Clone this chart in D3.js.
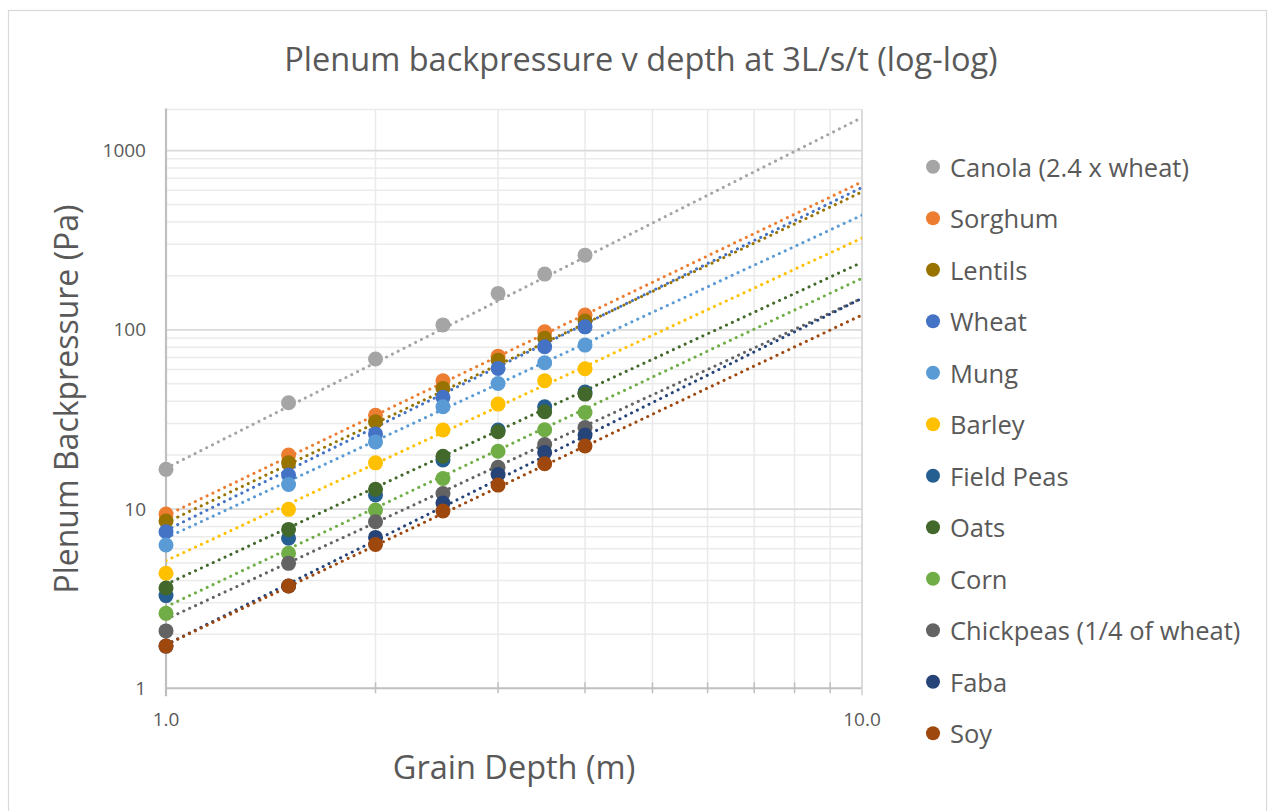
<!DOCTYPE html>
<html>
<head>
<meta charset="utf-8">
<script src="https://cdn.jsdelivr.net/npm/d3@7/dist/d3.min.js"></script>
<style>
  html, body { margin: 0; padding: 0; background: #ffffff; }
  svg { display: block; font-family: "Open Sans", "Noto Sans", sans-serif; }
</style>
</head>
<body>
<svg id="chart" width="1274" height="811"></svg>
<script>
// Grain depths (m) at which backpressure was measured
const depths = [1, 1.5, 2, 2.5, 3, 3.5, 4];

// Plenum backpressure (Pa) per grain, one array per series
const canola    = [16.65, 39.2, 68.7, 106.5, 159.6, 204.6, 261];
const sorghum   = [9.38, 20.0, 33.4, 51.9, 71.3, 97.5, 120.8];
const lentils   = [8.57, 18.1, 30.7, 47.1, 67.7, 89.6, 112];
const wheat     = [7.47, 15.5, 26.2, 42.0, 60.9, 80.4, 103.9];
const mung      = [6.30, 13.7, 23.7, 37.2, 50.2, 65.5, 82.2];
const barley    = [4.38, 9.96, 18.1, 27.6, 38.5, 52.0, 60.6];
const fieldPeas = [3.29, 6.87, 11.97, 18.8, 27.6, 37.2, 45.0];
const oats      = [3.63, 7.7, 12.9, 19.7, 27.0, 34.9, 43.8];
const corn      = [2.62, 5.66, 9.87, 14.8, 21.0, 27.7, 34.6];
const chickpeas = [2.09, 4.98, 8.5, 12.2, 17.1, 22.9, 28.5];
const faba      = [1.72, 3.72, 6.95, 10.8, 15.6, 20.7, 25.9];
const soy       = [1.72, 3.72, 6.35, 9.75, 13.6, 17.9, 22.5];

const seriesNames = ["Canola (2.4 x wheat)", "Sorghum", "Lentils", "Wheat", "Mung", "Barley",
  "Field Peas", "Oats", "Corn", "Chickpeas (1/4 of wheat)", "Faba", "Soy"];
const seriesValues = [canola, sorghum, lentils, wheat, mung, barley,
  fieldPeas, oats, corn, chickpeas, faba, soy];
const seriesColors = ["#A5A5A5", "#ED7D31", "#997300", "#4472C4", "#5B9BD5", "#FFC000",
  "#255E91", "#43682B", "#70AD47", "#636363", "#264478", "#9E480E"];

// Power trendlines y = a * x^b, given by their value at 1 m and at 10 m
// (null = series without a trendline)
const trendAt1m  = [16.9, 9.2, 8.4, 7.6, 6.9, 5.15, null, 3.8, 2.85, 2.43, 1.75, 1.75];
const trendAt10m = [1530, 669, 588, 623, 436, 325, null, 238, 194, 150, 150, 121];

const xTickLabels = ["1.0", "10.0"];
const yTickLabels = ["1", "10", "100", "1000"];

const titleText = "Plenum backpressure v depth at 3L/s/t (log-log)";
const xTitle = "Grain Depth (m)";
const yTitle = "Plenum Backpressure (Pa)";

const textColor = "#595959";

const svg = d3.select("#chart");

// outer chart frame
svg.append("rect")
  .attr("x", 8.5).attr("y", 10.5).attr("width", 1258).attr("height", 820)
  .attr("fill", "#ffffff").attr("stroke", "#D9D9D9").attr("stroke-width", 1.2);

const plot = { left: 166, right: 862, top: 109.5, bottom: 688.3 };

const x = d3.scaleLog().domain([1, 10]).range([plot.left, plot.right]);
const y = d3.scaleLog().domain([1, 1695]).range([plot.bottom, plot.top]);

const g = svg.append("g");

// horizontal gridlines: minor first, then decades
const yMinor = [];
for (let dec = 1; dec <= 1000; dec *= 10) {
  for (let m = 2; m <= 9; m++) {
    const v = dec * m;
    if (v < y.domain()[1]) yMinor.push(v);
  }
}
g.selectAll("line.yminor").data(yMinor).join("line")
  .attr("class", "yminor")
  .attr("x1", plot.left).attr("x2", plot.right)
  .attr("y1", d => y(d)).attr("y2", d => y(d))
  .attr("stroke", "#EBEBEB").attr("stroke-width", 1.5);

// vertical gridlines at 2..10
const xGrid = [2, 3, 4, 5, 6, 7, 8, 9, 10];
g.selectAll("line.xgrid").data(xGrid).join("line")
  .attr("class", "xgrid")
  .attr("x1", d => x(d)).attr("x2", d => x(d))
  .attr("y1", plot.top).attr("y2", plot.bottom)
  .attr("stroke", "#EAEAEA").attr("stroke-width", 1.5);

// top edge of the plot area
g.append("line")
  .attr("x1", plot.left).attr("x2", plot.right)
  .attr("y1", plot.top).attr("y2", plot.top)
  .attr("stroke", "#EAEAEA").attr("stroke-width", 1.5);

g.selectAll("line.ymajor").data([10, 100, 1000]).join("line")
  .attr("class", "ymajor")
  .attr("x1", plot.left).attr("x2", plot.right)
  .attr("y1", d => y(d)).attr("y2", d => y(d))
  .attr("stroke", "#D9D9D9").attr("stroke-width", 1.8);

// x axis line with crossing tick marks
g.append("line")
  .attr("x1", plot.left).attr("x2", plot.right + 1)
  .attr("y1", plot.bottom).attr("y2", plot.bottom)
  .attr("stroke", "#BFBFBF").attr("stroke-width", 2);
g.selectAll("line.xtick").data([2, 3, 4, 5, 6, 7, 8, 9]).join("line")
  .attr("class", "xtick")
  .attr("x1", d => x(d)).attr("x2", d => x(d))
  .attr("y1", plot.bottom - 6).attr("y2", plot.bottom + 5)
  .attr("stroke", "#BFBFBF").attr("stroke-width", 1.5);
g.append("line")
  .attr("x1", x(10)).attr("x2", x(10))
  .attr("y1", plot.top).attr("y2", plot.bottom + 7)
  .attr("stroke", "#D9D9D9").attr("stroke-width", 1.8);

// y axis line
g.append("line")
  .attr("x1", plot.left).attr("x2", plot.left)
  .attr("y1", plot.top - 1).attr("y2", plot.bottom + 8)
  .attr("stroke", "#BFBFBF").attr("stroke-width", 2.2);

// tick labels
svg.selectAll("text.ylab").data(yTickLabels).join("text")
  .attr("class", "ylab")
  .attr("x", 146).attr("y", d => y(+d))
  .attr("dy", "0.35em")
  .attr("text-anchor", "end")
  .attr("font-size", 19).attr("fill", textColor)
  .text(d => d);

svg.selectAll("text.xlab").data(xTickLabels).join("text")
  .attr("class", "xlab")
  .attr("x", d => x(+d)).attr("y", 719)
  .attr("dy", "0.35em")
  .attr("text-anchor", "middle")
  .attr("font-size", 19).attr("fill", textColor)
  .text(d => d);

// dotted power trendlines across the full depth range
const clip = svg.append("defs").append("clipPath").attr("id", "plotClip");
clip.append("rect")
  .attr("x", plot.left).attr("y", plot.top)
  .attr("width", plot.right - plot.left).attr("height", plot.bottom - plot.top);

const trendG = svg.append("g").attr("clip-path", "url(#plotClip)");
const line = d3.line().x(d => x(d[0])).y(d => y(d[1]));
const trendX = d3.range(0, 101).map(i => Math.pow(10, i / 100));

seriesValues.forEach((vals, i) => {
  if (trendAt1m[i] == null) return;
  const a = trendAt1m[i];
  const b = Math.log10(trendAt10m[i] / trendAt1m[i]);
  trendG.append("path")
    .attr("d", line(trendX.map(t => [t, a * Math.pow(t, b)])))
    .attr("fill", "none")
    .attr("stroke", seriesColors[i])
    .attr("stroke-width", 3)
    .attr("stroke-linecap", "round")
    .attr("stroke-dasharray", "0.1,6.4");
});

// markers
const markG = svg.append("g");
seriesValues.forEach((vals, i) => {
  markG.append("g").selectAll("circle").data(vals).join("circle")
    .attr("cx", (d, j) => x(depths[j]))
    .attr("cy", d => y(d))
    .attr("r", 7.5)
    .attr("fill", seriesColors[i]);
});

// title
svg.append("text")
  .attr("x", 641).attr("y", 60)
  .attr("dy", "0.35em")
  .attr("text-anchor", "middle")
  .attr("font-size", 32.5).attr("fill", textColor)
  .text(titleText);

// axis titles
svg.append("text")
  .attr("x", 514).attr("y", 768)
  .attr("dy", "0.35em")
  .attr("text-anchor", "middle")
  .attr("font-size", 32.5).attr("fill", textColor)
  .text(xTitle);

svg.append("text")
  .attr("transform", "translate(67,399) rotate(-90)")
  .attr("dy", "0.35em")
  .attr("text-anchor", "middle")
  .attr("font-size", 32).attr("fill", textColor)
  .text(yTitle);

// legend
const legend = svg.append("g").selectAll("g").data(seriesNames).join("g")
  .attr("transform", (d, i) => `translate(933,${166.7 + i * 51.5})`);
legend.append("circle")
  .attr("r", 7)
  .attr("fill", (d, i) => seriesColors[i]);
legend.append("text")
  .attr("x", 17).attr("y", 1)
  .attr("dy", "0.35em")
  .attr("font-size", 25.5).attr("fill", textColor)
  .text(d => d);
</script>
</body>
</html>
